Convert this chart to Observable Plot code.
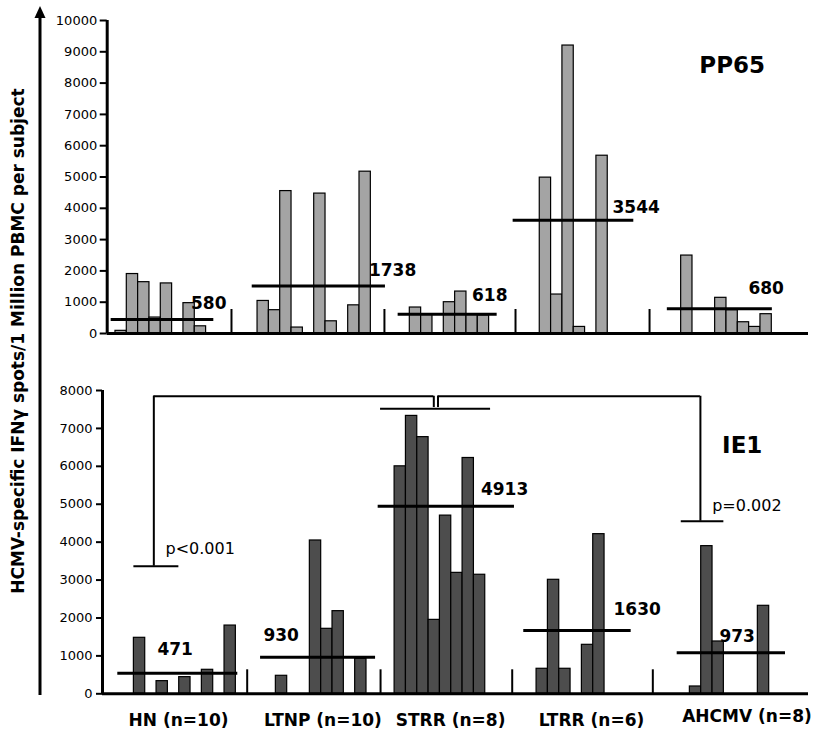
<!DOCTYPE html>
<html>
<head>
<meta charset="utf-8">
<script src="https://cdn.jsdelivr.net/npm/d3@7"></script>
<script src="https://cdn.jsdelivr.net/npm/@observablehq/plot@0.6"></script>
<style>
  body { margin: 0; background: #fff; }
  #wrap { position: relative; width: 815px; height: 729px; font-family: "DejaVu Sans", Verdana, sans-serif; }
  #wrap > div, #wrap > svg { position: absolute; left: 0; }
</style>
</head>
<body>
<div id="wrap"></div>
<script>
// ---------- DATA ----------
const groups = ["HN (n=10)", "LTNP (n=10)", "STRR (n=8)", "LTRR (n=6)", "AHCMV (n=8)"];

// PP65 responses per subject (spots / 1e6 PBMC), 0 = no bar
const pp65HN    = [85, 1900, 1640, 510, 1600, 0, 970, 230, 0, 0];
const pp65LTNP  = [1040, 745, 4550, 190, 0, 4470, 390, 0, 900, 5170];
const pp65STRR  = [830, 600, 0, 1000, 1340, 600, 580, 0];
const pp65LTRR  = [4980, 1245, 9200, 210, 0, 5680];
const pp65AHCMV = [2490, 0, 0, 1140, 745, 360, 210, 617];

// IE1 responses per subject
const ie1HN    = [0, 1477, 0, 334, 0, 440, 0, 633, 0, 1800];
const ie1LTNP  = [0, 475, 0, 0, 4044, 1714, 2180, 0, 923, 0];
const ie1STRR  = [6000, 7330, 6770, 1950, 4700, 3190, 6220, 3140];
const ie1LTRR  = [660, 3007, 660, 0, 1292, 4211];
const ie1AHCMV = [193, 3895, 1380, 0, 0, 0, 2321, 0];

// mean lines as drawn, and mean labels as printed
const pp65MeanLine  = [447, 1520, 617, 3617, 787];
const pp65MeanLabel = ["580", "1738", "618", "3544", "680"];
const ie1MeanLine   = [545, 967, 4950, 1670, 1081];
const ie1MeanLabel  = ["471", "930", "4913", "1630", "973"];

const pLabels = ["p<0.001", "p=0.002"];
const yTicksTop = d3.range(0, 10001, 1000);
const yTicksBottom = d3.range(0, 8001, 1000);

// ---------- LAYOUT (in subject-slot units) ----------
const topLayout = {
  start: [0.73, 13.27, 26.71, 38.18, 50.66],
  sep: [10.97, 24.47, 36.04, 47.87],
  span: [[0.35, 9.41], [12.8, 24.56], [25.68, 34.42], [35.83, 46.48], [49.44, 58.71]],
  labelX: [7.4, 23.1, 32.2, 44.6, 56.6],
  labelY: [958, 2013, 1214, 4026, 1438]
};
const botLayout = {
  start: [1.77, 14.3, 25.78, 38.31, 51.84],
  sep: [12.77, 24.54, 36.16, 48.57],
  span: [[1.35, 11.94], [13.95, 24.1], [24.33, 36.36], [37.18, 46.66], [50.72, 60.28]],
  labelX: [4.85, 14.2, 33.4, 45.1, 54.45],
  labelY: [1160, 1537, 5388, 2223, 1519],
  groupX: [6.71, 19.46, 30.72, 43.16, 56.88]
};

function bars(series, starts) {
  const out = [];
  series.forEach((vals, g) => vals.forEach((v, i) => {
    if (v > 0) out.push({x1: starts[g] + i, x2: starts[g] + i + 1, y: v});
  }));
  return out;
}
function means(vals, layout) {
  return vals.map((v, g) => ({x1: layout.span[g][0], x2: layout.span[g][1], y: v}));
}
function labels(texts, layout) {
  return texts.map((t, g) => ({x: layout.labelX[g], y: layout.labelY[g], t}));
}

const font = '"DejaVu Sans", Verdana, sans-serif';
const wrap = document.getElementById("wrap");

// ---------- TOP PANEL (PP65) ----------
const topMax = 61.9;
const topPlot = Plot.plot({
  width: 815, height: 345,
  marginTop: 20, marginBottom: 12, marginLeft: 106.7, marginRight: 7,
  style: {fontFamily: font, background: "white", color: "black"},
  x: {domain: [0, topMax], axis: null},
  y: {domain: [0, 10000], axis: null},
  marks: [
    Plot.axisY({ticks: yTicksTop, tickFormat: d => String(d), label: null, tickSize: 7, tickPadding: 3, fontSize: 13, strokeWidth: 2}),
    Plot.rectY(bars([pp65HN, pp65LTNP, pp65STRR, pp65LTRR, pp65AHCMV], topLayout.start),
      {x1: "x1", x2: "x2", y: "y", fill: "#a4a4a4", stroke: "black", strokeWidth: 1.2}),
    Plot.ruleX(topLayout.sep, {y1: 0, y2: 767, strokeWidth: 2}),
    Plot.ruleY(means(pp65MeanLine, topLayout), {x1: "x1", x2: "x2", y: "y", strokeWidth: 3}),
    Plot.text(labels(pp65MeanLabel, topLayout), {x: "x", y: "y", text: "t", textAnchor: "start", fontSize: 17, fontWeight: "bold"}),
    Plot.text(["PP65"], {x: 55.16, y: 8562, text: d => d, fontSize: 23, fontWeight: "bold"}),
    Plot.ruleX([0], {y1: 0, y2: 10000, strokeWidth: 3}),
    Plot.ruleY([0], {x1: 0, x2: topMax, strokeWidth: 3})
  ]
});
topPlot.style.top = "0px";
wrap.appendChild(topPlot);

// ---------- BOTTOM PANEL (IE1) ----------
const botMax = 62.31;
const botPlot = Plot.plot({
  width: 815, height: 384,
  marginTop: 45, marginBottom: 35.7, marginLeft: 102, marginRight: 7,
  style: {fontFamily: font, background: "white", color: "black"},
  x: {domain: [0, botMax], axis: null},
  y: {domain: [0, 8000], axis: null},
  marks: [
    Plot.axisY({ticks: yTicksBottom, tickFormat: d => String(d), label: null, tickSize: 6, tickPadding: 4, fontSize: 13, strokeWidth: 2}),
    Plot.rectY(bars([ie1HN, ie1LTNP, ie1STRR, ie1LTRR, ie1AHCMV], botLayout.start),
      {x1: "x1", x2: "x2", y: "y", fill: "#4d4d4d", stroke: "black", strokeWidth: 1.2}),
    Plot.ruleX(botLayout.sep, {y1: 0, y2: 633, strokeWidth: 2}),
    Plot.ruleY(means(ie1MeanLine, botLayout), {x1: "x1", x2: "x2", y: "y", strokeWidth: 3}),
    Plot.text(labels(ie1MeanLabel, botLayout), {x: "x", y: "y", text: "t", textAnchor: "start", fontSize: 17, fontWeight: "bold"}),
    // significance brackets
    Plot.ruleY([
      {y: 7848, x1: 4.53, x2: 29.24}, {y: 7848, x1: 29.61, x2: 52.77},
      {y: 3365, x1: 2.77, x2: 6.74}, {y: 4552, x1: 51.08, x2: 54.84},
      {y: 7516, x1: 24.54, x2: 34.25}
    ], {x1: "x1", x2: "x2", y: "y", strokeWidth: 2}),
    Plot.ruleX([
      {x: 4.53, y1: 3365, y2: 7848}, {x: 29.24, y1: 7550, y2: 7848},
      {x: 29.61, y1: 7550, y2: 7848}, {x: 52.77, y1: 4552, y2: 7848}
    ], {x: "x", y1: "y1", y2: "y2", strokeWidth: 2}),
    Plot.text([{x: 5.56, y: 3832, t: pLabels[0]}, {x: 53.81, y: 4966, t: pLabels[1]}],
      {x: "x", y: "y", text: "t", textAnchor: "start", fontSize: 16}),
    Plot.text(["IE1"], {x: 56.46, y: 6548, text: d => d, fontSize: 23, fontWeight: "bold"}),
    Plot.text(groups.slice(0, 4), {x: (d, i) => botLayout.groupX[i], y: 0, text: d => d, dy: 27, fontSize: 17, fontWeight: "bold"}),
    Plot.text(groups.slice(4), {x: (d, i) => botLayout.groupX[4 + i], y: 0, text: d => d, dy: 23, fontSize: 17, fontWeight: "bold"}),
    Plot.ruleX([0], {y1: 0, y2: 8000, strokeWidth: 3}),
    Plot.ruleY([0], {x1: 0, x2: botMax, strokeWidth: 3})
  ]
});
botPlot.style.top = "345px";
wrap.appendChild(botPlot);

// ---------- Shared y-axis title with arrow ----------
const svg = d3.select(wrap).append("svg")
  .attr("width", 815).attr("height", 729)
  .style("top", "0px").style("pointer-events", "none");
svg.append("line").attr("x1", 40).attr("x2", 40).attr("y1", 695).attr("y2", 14)
  .attr("stroke", "black").attr("stroke-width", 3);
svg.append("path").attr("d", "M40,6 L34.5,18 L45.5,18 Z").attr("fill", "black");
svg.append("text")
  .attr("transform", "translate(19,341) rotate(-90)")
  .attr("text-anchor", "middle").attr("dominant-baseline", "middle")
  .attr("font-family", font).attr("font-size", 17).attr("font-weight", "bold")
  .text("HCMV-specific IFNγ spots/1 Million PBMC per subject");
</script>
</body>
</html>
